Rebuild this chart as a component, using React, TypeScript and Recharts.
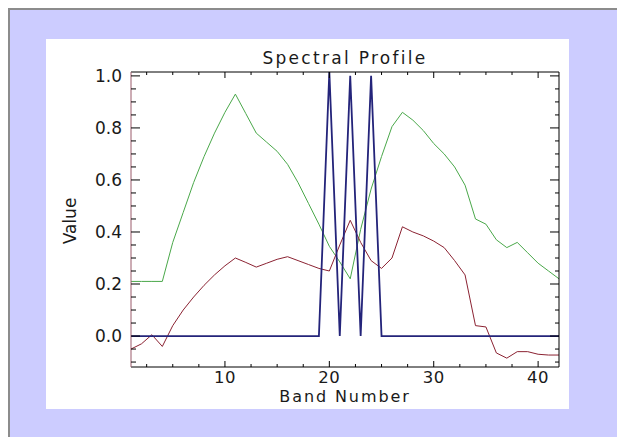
import React from "react";
import { LineChart, Line, XAxis, YAxis } from "recharts";

const bands = [1,2,3,4,5,6,7,8,9,10,11,12,13,14,15,16,17,18,19,20,21,22,23,24,25,26,27,28,29,30,31,32,33,34,35,36,37,38,39,40,41,42];
const greenValues = [0.21,0.21,0.21,0.21,0.36,0.475,0.59,0.69,0.78,0.86,0.93,0.855,0.78,0.745,0.71,0.66,0.59,0.51,0.43,0.345,0.285,0.22,0.41,0.565,0.69,0.805,0.86,0.83,0.79,0.74,0.70,0.65,0.58,0.45,0.43,0.37,0.34,0.36,0.32,0.28,0.25,0.22];
const redValues = [-0.05,-0.03,0.005,-0.04,0.04,0.10,0.15,0.195,0.235,0.27,0.30,0.283,0.265,0.28,0.295,0.305,0.29,0.275,0.26,0.25,0.35,0.445,0.36,0.29,0.26,0.30,0.42,0.40,0.385,0.365,0.34,0.29,0.235,0.04,0.035,-0.065,-0.085,-0.06,-0.06,-0.07,-0.073,-0.073];
const blueValues = [0,0,0,0,0,0,0,0,0,0,0,0,0,0,0,0,0,0,0,1.015,0,1.0,0,1.0,0,0,0,0,0,0,0,0,0,0,0,0,0,0,0,0,0,0];

const xTicks = [2.5,5,7.5,10,12.5,15,17.5,20,22.5,25,27.5,30,32.5,35,37.5,40];
const xLabels = [10,20,30,40];
const yTicks = [-0.1,-0.05,0,0.05,0.1,0.15,0.2,0.25,0.3,0.35,0.4,0.45,0.5,0.55,0.6,0.65,0.7,0.75,0.8,0.85,0.9,0.95,1.0];
const yLabels = [0,0.2,0.4,0.6,0.8,1.0];

const xDomain = [1, 42];
const yDomain = [-0.119, 1.015];

const data = bands.map((b, i) => ({ band: b, green: greenValues[i], red: redValues[i], blue: blueValues[i] }));

const FONT = "'DejaVu Sans', sans-serif";
const TEXT = "#1a1a1a";

const isMajor = (arr: number[], v: number) => arr.some((a) => Math.abs(a - v) < 1e-6);

const BottomTick = (props: any) => {
  const { x, y, payload } = props;
  const major = isMajor(xLabels, payload.value);
  return (
    <g>
      <line x1={x} x2={x} y1={y} y2={y - (major ? 6 : 3)} stroke="#000" strokeWidth={1} />
      {major && (
        <text x={x} y={y + 16} textAnchor="middle" fontFamily={FONT} fontSize={16.5} letterSpacing={0.5} fill={TEXT}>
          {payload.value}
        </text>
      )}
    </g>
  );
};

const TopTick = (props: any) => {
  const { x, y, payload } = props;
  const major = isMajor(xLabels, payload.value);
  return <line x1={x} x2={x} y1={y} y2={y + (major ? 6 : 3)} stroke="#000" strokeWidth={1} />;
};

const LeftTick = (props: any) => {
  const { x, y, payload } = props;
  const major = isMajor(yLabels, payload.value);
  return (
    <g>
      <line x1={x} x2={x + (major ? 9 : 5)} y1={y} y2={y} stroke="#000" strokeWidth={1} />
      {major && (
        <text x={x - 9} y={y + 6} textAnchor="end" fontFamily={FONT} fontSize={17} fill={TEXT}>
          {Number(payload.value).toFixed(1)}
        </text>
      )}
    </g>
  );
};

const RightTick = (props: any) => {
  const { x, y, payload } = props;
  const major = isMajor(yLabels, payload.value);
  return <line x1={x} x2={x - (major ? 9 : 4)} y1={y} y2={y} stroke="#000" strokeWidth={1} />;
};

export default function App() {
  return (
    <div
      style={{
        position: "fixed",
        left: 8,
        top: 8,
        width: 609,
        height: 429,
        background: "#ccccff",
        borderTop: "2px solid #8c8c8c",
        borderLeft: "2px solid #8c8c8c",
        boxSizing: "border-box",
      }}
    >
      <div style={{ position: "absolute", left: 36, top: 29, width: 523, height: 370, background: "#ffffff" }}>
        <LineChart width={523} height={370} data={data} margin={{ top: 23, right: 0, bottom: 12, left: 45 }}>
          <XAxis
            xAxisId="bottom"
            dataKey="band"
            type="number"
            domain={xDomain}
            ticks={xTicks}
            interval={0}
            allowDataOverflow
            height={30}
            tickSize={0}
            tickMargin={0}
            tickLine={false}
            axisLine={{ stroke: "#000", strokeWidth: 1 }}
            tick={<BottomTick />}
          />
          <XAxis
            xAxisId="top"
            orientation="top"
            dataKey="band"
            type="number"
            domain={xDomain}
            ticks={xTicks}
            interval={0}
            allowDataOverflow
            height={10}
            tickSize={0}
            tickMargin={0}
            tickLine={false}
            axisLine={{ stroke: "#000", strokeWidth: 1 }}
            tick={<TopTick />}
          />
          <YAxis
            yAxisId="left"
            type="number"
            domain={yDomain}
            ticks={yTicks}
            interval={0}
            allowDataOverflow
            width={40}
            tickSize={0}
            tickMargin={0}
            tickLine={false}
            axisLine={{ stroke: "#9a5a6a", strokeWidth: 1 }}
            tick={<LeftTick />}
          />
          <YAxis
            yAxisId="right"
            orientation="right"
            type="number"
            domain={yDomain}
            ticks={yTicks}
            interval={0}
            allowDataOverflow
            width={10}
            tickSize={0}
            tickMargin={0}
            tickLine={false}
            axisLine={{ stroke: "#000", strokeWidth: 1 }}
            tick={<RightTick />}
          />
          <Line xAxisId="bottom" yAxisId="left" type="linear" dataKey="green" stroke="#4aa84a" strokeWidth={1} dot={false} isAnimationActive={false} />
          <Line xAxisId="bottom" yAxisId="left" type="linear" dataKey="red" stroke="#8b2232" strokeWidth={1} dot={false} isAnimationActive={false} />
          <Line xAxisId="bottom" yAxisId="left" type="linear" dataKey="blue" stroke="#24247a" strokeWidth={1.8} dot={false} isAnimationActive={false} />
        </LineChart>
        <svg width={523} height={370} style={{ position: "absolute", left: 0, top: 0, pointerEvents: "none" }}>
          <text x={299} y={25} textAnchor="middle" fontFamily={FONT} fontSize={17} letterSpacing={2.3} fill={TEXT}>
            Spectral Profile
          </text>
          <text x={299} y={363} textAnchor="middle" fontFamily={FONT} fontSize={16} letterSpacing={1.9} fill={TEXT}>
            Band Number
          </text>
          <text transform="translate(30,182) rotate(-90)" textAnchor="middle" fontFamily={FONT} fontSize={17} fill={TEXT}>
            Value
          </text>
        </svg>
      </div>
    </div>
  );
}
